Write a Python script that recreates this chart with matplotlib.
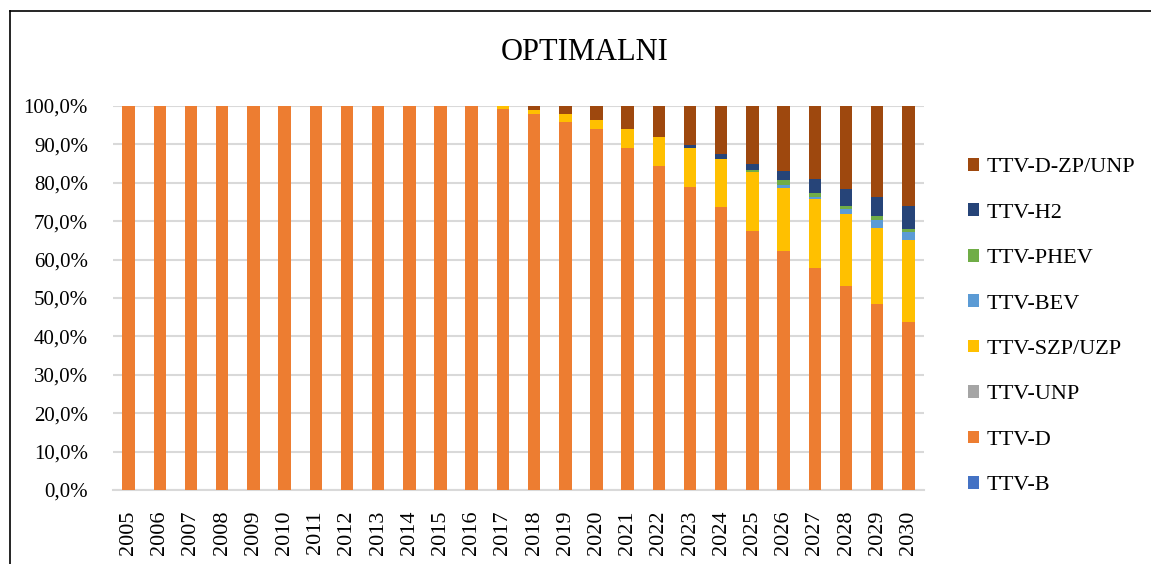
import matplotlib
matplotlib.use("Agg")
import matplotlib.pyplot as plt
import numpy as np
from matplotlib.ticker import FuncFormatter, MultipleLocator
from matplotlib.lines import Line2D

years = [str(y) for y in range(2005, 2031)]

ttv_b = [0.0] * 26
ttv_d = [100.0] * 12 + [99.3, 98.0, 95.8, 94.0, 89.0, 84.3, 78.9, 73.6, 67.5, 62.2, 57.9, 53.2, 48.5, 43.8]
ttv_unp = [0.0] * 26
ttv_szp = [0.0] * 12 + [0.7, 0.9, 2.1, 2.3, 4.9, 7.6, 10.1, 12.7, 15.2, 16.5, 17.8, 18.8, 19.7, 21.2]
ttv_bev = [0.0] * 20 + [0.2, 0.6, 0.6, 1.3, 2.0, 2.2]
ttv_phev = [0.0] * 20 + [0.4, 1.3, 1.0, 0.7, 1.1, 0.7]
ttv_h2 = [0.0] * 18 + [0.8, 1.1, 1.7, 2.4, 3.6, 4.3, 5.0, 6.1]
ttv_dzp = [0.0] * 13 + [1.1, 2.1, 3.7, 6.1, 8.1, 10.2, 12.6, 15.0, 17.0, 19.1, 21.7, 23.7, 26.0]

series = [
    ("TTV-B", ttv_b, "#4472C4"),
    ("TTV-D", ttv_d, "#ED7D31"),
    ("TTV-UNP", ttv_unp, "#A5A5A5"),
    ("TTV-SZP/UZP", ttv_szp, "#FFC000"),
    ("TTV-BEV", ttv_bev, "#5B9BD5"),
    ("TTV-PHEV", ttv_phev, "#70AD47"),
    ("TTV-H2", ttv_h2, "#264478"),
    ("TTV-D-ZP/UNP", ttv_dzp, "#9E480E"),
]

plt.rcParams['font.family'] = ['Liberation Serif', 'DejaVu Serif']

fig = plt.figure(figsize=(11.51, 5.64), dpi=100)
W, H = 1151, 564
ax = fig.add_axes([113 / W, 1 - 490 / H, (924 - 113) / W, (490 - 106) / H])

x = np.arange(len(years))
bottom = np.zeros(len(years))
handles = []
for name, vals, col in series:
    v = np.array(vals) / 100.0
    b = ax.bar(x, v, width=0.4, bottom=bottom, color=col, label=name, zorder=3)
    bottom += v
    handles.append(b)

ax.set_xlim(-0.5, len(years) - 0.5)
ax.set_ylim(0, 1.0)
ax.yaxis.set_major_locator(MultipleLocator(0.1))
ax.yaxis.set_major_formatter(FuncFormatter(lambda v, p: f"{v*100:.1f}%".replace(".", ",")))
ax.grid(axis='y', color='#D9D9D9', linewidth=1.5, zorder=0)
ax.set_axisbelow(True)
for s in ['top', 'right', 'left']:
    ax.spines[s].set_visible(False)
ax.spines['bottom'].set_color('#D9D9D9')
ax.spines['bottom'].set_linewidth(1.5)
ax.set_xticks(x)
ax.set_xticklabels(years, rotation=90, fontsize=16)
ax.tick_params(axis='y', length=0, labelsize=15, colors='black', pad=18)
ax.tick_params(axis='x', length=0, colors='black', pad=15)

fig.text(585 / W, 1 - 53 / H, "OPTIMALNI", ha='center', va='center', fontsize=22)

leg = fig.legend(handles[::-1], [s[0] for s in series][::-1],
                 loc='upper left', bbox_to_anchor=(948 / W, 1 - 138 / H),
                 frameon=False, fontsize=16, handlelength=0.5, handleheight=0.5,
                 handletextpad=0.35, labelspacing=1.18)

fig.add_artist(Line2D([10 / W, 10 / W], [0, 1 - 11 / H], color='black', linewidth=1.2, transform=fig.transFigure))
fig.add_artist(Line2D([10 / W, 1], [1 - 11 / H, 1 - 11 / H], color='black', linewidth=1.2, transform=fig.transFigure))

fig.savefig("out.png", dpi=100)
